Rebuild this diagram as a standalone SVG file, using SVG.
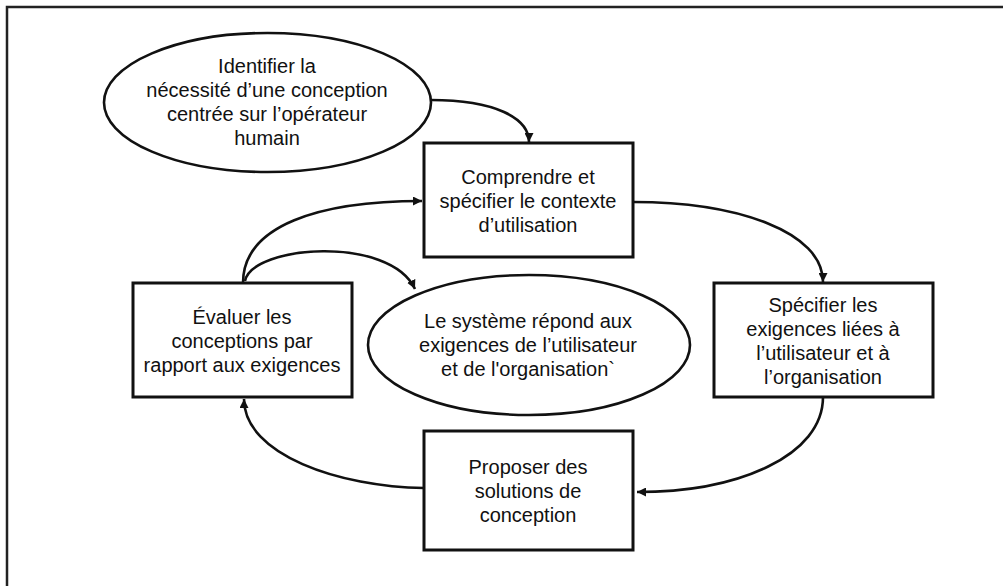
<svg xmlns="http://www.w3.org/2000/svg" width="1003" height="586" viewBox="0 0 1003 586">
<defs>
<style>
.box{fill:#fff;stroke:#111;stroke-width:3}
.ell{fill:#fff;stroke:#111;stroke-width:2.6}
.t{font-family:"Liberation Sans",Arial,sans-serif;font-size:20px;fill:#111;text-anchor:middle}
.c{fill:none;stroke:#111;stroke-width:2.6}
.frame{fill:none;stroke:#222;stroke-width:2.5}
</style>
<marker id="ah" markerUnits="userSpaceOnUse" markerWidth="10" markerHeight="9" refX="9" refY="4.5" orient="auto">
<path d="M0,0 L9,4.5 L0,9 z" fill="#111"/>
</marker>
</defs>
<rect width="1003" height="586" fill="#fff"/>
<path class="frame" d="M7,590 L7,7 L1010,7"/>

<g id="connectors">
<path class="c" d="M431,100 C495,100 529,118 529,142" marker-end="url(#ah)"/>
<path class="c" d="M633,202 C738,202 823,232 823,282" marker-end="url(#ah)"/>
<path class="c" d="M823,397 C823,455 740,492 637,492" marker-end="url(#ah)"/>
<path class="c" d="M424,488 C340,487 244,455 244,399" marker-end="url(#ah)"/>
<path class="c" d="M243,283 C243,225 320,201 422,201" marker-end="url(#ah)"/>
<path class="c" d="M245,281 C252,245 390,235 415,289" marker-end="url(#ah)"/>
</g>

<g id="n-identifier">
<ellipse class="ell" cx="267.5" cy="102.5" rx="163.5" ry="69.5"/>
<text class="t" x="267" y="73">Identifier la</text>
<text class="t" x="267" y="97">nécessité d’une conception</text>
<text class="t" x="267" y="121">centrée sur l’opérateur</text>
<text class="t" x="267" y="145">humain</text>
</g>

<g id="n-comprendre">
<rect class="box" x="424" y="143" width="209" height="114"/>
<text class="t" x="528" y="184">Comprendre et</text>
<text class="t" x="528" y="208">spécifier le contexte</text>
<text class="t" x="528" y="232">d’utilisation</text>
</g>

<g id="n-evaluer">
<rect class="box" x="133" y="283" width="219" height="114"/>
<text class="t" x="242" y="324">Évaluer les</text>
<text class="t" x="242" y="348">conceptions par</text>
<text class="t" x="242" y="372">rapport aux exigences</text>
</g>

<g id="n-systeme">
<ellipse class="ell" cx="529" cy="345" rx="161" ry="70"/>
<text class="t" x="528" y="328">Le système répond aux</text>
<text class="t" x="528" y="352">exigences de l’utilisateur</text>
<text class="t" x="528" y="376">et de l'organisation`</text>
</g>

<g id="n-specifier">
<rect class="box" x="714" y="283" width="219" height="114"/>
<text class="t" x="823" y="312">Spécifier les</text>
<text class="t" x="823" y="336">exigences liées à</text>
<text class="t" x="823" y="360">l’utilisateur et à</text>
<text class="t" x="823" y="384">l’organisation</text>
</g>

<g id="n-proposer">
<rect class="box" x="424" y="431" width="209" height="119"/>
<text class="t" x="528" y="474">Proposer des</text>
<text class="t" x="528" y="498">solutions de</text>
<text class="t" x="528" y="522">conception</text>
</g>
</svg>
